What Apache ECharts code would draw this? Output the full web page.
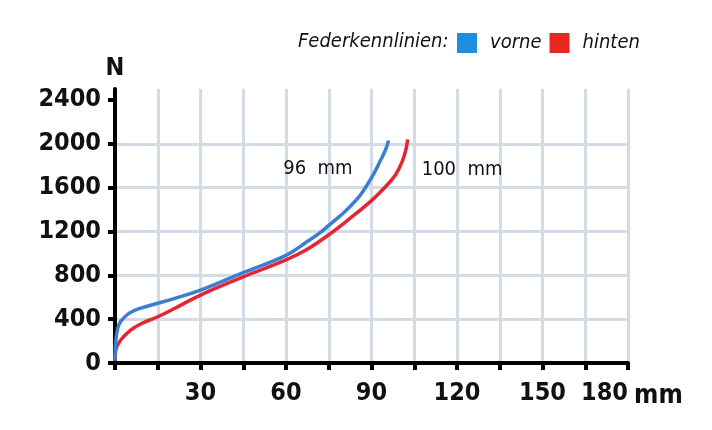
<!DOCTYPE html>
<html>
<head>
<meta charset="utf-8">
<script src="https://cdn.jsdelivr.net/npm/echarts@6/dist/echarts.min.js"></script>
<style>
  html, body { margin: 0; padding: 0; background: #fff; }
  #chart { width: 712px; height: 430px; }
</style>
</head>
<body>
<div id="chart"></div>
<script>
// Federweg (mm) und Kraft (N)
const vorneMm = [0, 0.3, 1, 2, 5, 9, 15, 21, 30, 45, 60, 67, 72, 75, 81, 86, 90, 93, 95, 96];
const vorneN = [20, 210, 320, 380, 455, 500, 545, 590, 665, 825, 982, 1100, 1190, 1255, 1390, 1530, 1690, 1840, 1950, 2030];
const hintenMm = [0, 0.3, 2, 5.5, 9, 15, 21, 30, 45, 60, 67, 75, 82, 90, 95, 98.5, 100.8, 102, 102.7];
const hintenN = [20, 120, 210, 300, 356, 422, 499, 620, 785, 940, 1030, 1170, 1310, 1482, 1610, 1720, 1840, 1940, 2040];

const xLabels = [30, 60, 90, 120, 150, 180];
const yLabels = [0, 400, 800, 1200, 1600, 2000, 2400];
const endLabels = { vorne: "96  mm", hinten: "100  mm" };

const font = "'DejaVu Sans Condensed', 'Liberation Sans Narrow', sans-serif";

const zip = (a, b) => a.map((v, i) => [v, b[i]]);
const plain = (v) => String(v);

const chart = echarts.init(document.getElementById("chart"));

chart.setOption({
  animation: false,
  grid: { left: 115, right: 84, top: 89, bottom: 67 },
  title: {
    text: "Federkennlinien:",
    left: 293, top: 27,
    textStyle: { fontFamily: font, fontStyle: "italic", fontWeight: "normal", fontSize: 20, color: "#111" }
  },
  legend: {
    left: 452, top: 28,
    icon: "rect",
    itemWidth: 20, itemHeight: 20, itemGap: 8,
    textStyle: { fontFamily: font, fontStyle: "italic", fontSize: 20, color: "#111", padding: [0, 0, 0, 8] },
    data: [
      { name: "vorne", itemStyle: { color: "#1e8fe0" } },
      { name: "hinten", itemStyle: { color: "#e8281e" } }
    ]
  },
  xAxis: {
    type: "value", min: 0, max: 180, interval: 15,
    name: "mm", nameLocation: "end", nameGap: 6,
    nameTextStyle: { fontFamily: font, fontWeight: "bold", fontSize: 26, color: "#111", verticalAlign: "top", padding: [20, 0, 0, 0] },
    axisLine: { lineStyle: { color: "#000", width: 4 } },
    axisTick: { length: 7, lineStyle: { color: "#000", width: 4 } },
    axisLabel: {
      customValues: xLabels, margin: 18, formatter: plain, alignMaxLabel: "right",
      fontFamily: font, fontWeight: "bold", fontSize: 25, color: "#111"
    },
    splitLine: { lineStyle: { color: "#d3dce6", width: 3 } }
  },
  yAxis: {
    type: "value", min: 0, max: 2500, interval: 400,
    name: "N", nameLocation: "end", nameGap: 8,
    nameTextStyle: { fontFamily: font, fontWeight: "bold", fontSize: 25, color: "#111", align: "center" },
    axisLine: { show: true, lineStyle: { color: "#000", width: 4 } },
    axisTick: { show: true, customValues: yLabels, length: 7, lineStyle: { color: "#000", width: 4 } },
    axisLabel: {
      customValues: yLabels, margin: 14, formatter: plain,
      fontFamily: font, fontWeight: "bold", fontSize: 25, color: "#111"
    },
    splitLine: { showMaxLine: false, showMinLine: false, lineStyle: { color: "#d3dce6", width: 3 } }
  },
  series: [
    {
      name: "hinten", type: "line", data: zip(hintenMm, hintenN),
      smooth: 0.4, showSymbol: false,
      lineStyle: { color: "#e42532", width: 3.5 }, itemStyle: { color: "#e42532" },
      endLabel: {
        show: true, formatter: endLabels.hinten, align: "left", offset: [6, 30],
        fontFamily: font, fontSize: 20, color: "#111"
      }
    },
    {
      name: "vorne", type: "line", data: zip(vorneMm, vorneN),
      smooth: 0.4, showSymbol: false,
      lineStyle: { color: "#3a7ecf", width: 3.5 }, itemStyle: { color: "#3a7ecf" },
      endLabel: {
        show: true, formatter: endLabels.vorne, align: "right", offset: [-44, 28],
        fontFamily: font, fontSize: 20, color: "#111"
      }
    }
  ]
});
</script>
</body>
</html>
